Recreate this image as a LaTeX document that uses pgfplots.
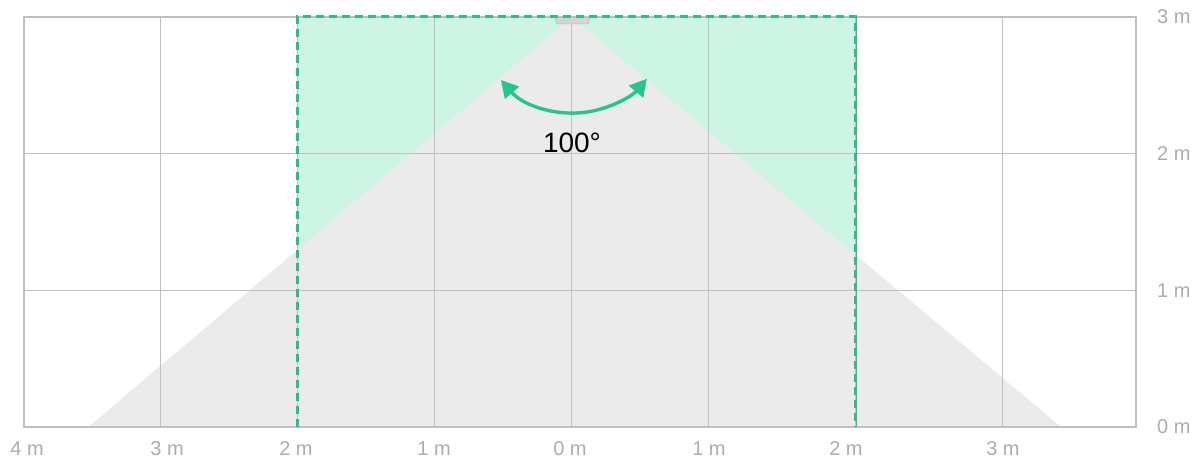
\documentclass[border=0pt]{standalone}
\usepackage{fontspec}
\setmainfont{Liberation Sans}
\usepackage{pgfplots}
\pgfplotsset{compat=1.18}
\usetikzlibrary{arrows.meta}
\definecolor{mint}{RGB}{204,245,228}
\definecolor{conegray}{RGB}{235,235,235}
\definecolor{gridgray}{RGB}{192,192,192}
\definecolor{labgray}{RGB}{172,172,172}
\definecolor{dashgreen}{RGB}{38,192,138}
\definecolor{arcgreen}{RGB}{32,200,140}
\definecolor{sensgray}{RGB}{212,212,212}
\begin{document}
\begin{tikzpicture}
\begin{axis}[
  name=ax, at={(0,0)}, anchor=south west,
  set layers=axis on top,
  scale only axis, width=1112bp, height=410bp,
  xmin=-4, xmax=4.117, ymin=0, ymax=3,
  axis line style={gridgray, line width=1.2bp},
  major tick length=0pt,
  xtick={-3.978,-2.956,-2.015,-1.007,-0.015,1.0,2.0,3.146},
  xticklabels={4 m,3 m,2 m,1 m,0 m,1 m,2 m,3 m},
  extra x ticks={-3.007,-2.007,-1.007,0,1.0,2.073,3.146},
  extra x tick labels={},
  extra x tick style={grid=major},
  ytick={0,1,2,3},
  yticklabels={0 m,1 m,2 m,3 m},
  ymajorgrids=true,
  yticklabel pos=right,
  grid style={gridgray, line width=1bp},
  xticklabel style={font=\fontsize{20bp}{22bp}\selectfont, text=labgray, anchor=base, inner sep=0pt, yshift=-29bp},
  yticklabel style={font=\fontsize{20bp}{22bp}\selectfont, text=labgray, anchor=west, inner sep=0pt, xshift=21bp},
  /pgf/number format/assume math mode=true,
]
% green coverage rectangle
\addplot[draw=none, fill=mint] coordinates {(-2.007,0) (2.073,0) (2.073,3) (-2.007,3)} \closedcycle;
% gray detection cone (100 deg)
\addplot[draw=none, fill=conegray] coordinates {(-3.53,0) (0,3) (3.57,0)} -- cycle;
% sensor
\addplot[on layer=axis foreground, fill=sensgray, draw=gridgray, line width=0.6bp] coordinates {(-0.124,2.995) (0.131,2.995) (0.12,2.95) (-0.11,2.95)} -- cycle;
% thin solid right edge
\addplot[on layer=axis foreground, dashgreen, line width=0.9bp] coordinates {(2.073,0) (2.073,3)};
% dashed rectangle
\addplot[on layer=axis foreground, dashgreen, line width=3bp, dash pattern=on 8bp off 5bp] coordinates {(-2.007,0) (-2.007,3) (2.073,3) (2.073,0)};
\begin{pgfonlayer}{axis foreground}
\draw[arcgreen, line width=3.4bp, {Triangle[length=17bp,width=18bp]}-{Triangle[length=17bp,width=18bp]}]
  (axis cs:0.01,3) ++(221:96bp) arc[start angle=221, end angle=320, radius=96bp];
\node[anchor=base, inner sep=0pt, font=\fontsize{28bp}{30bp}\selectfont] at (axis cs:0,2.007) {100°};
\end{pgfonlayer}
\end{axis}
\path[use as bounding box] ([shift={(-24bp,-35bp)}]ax.south west) rectangle ([shift={(65bp,17bp)}]ax.north east);
\end{tikzpicture}
\end{document}
